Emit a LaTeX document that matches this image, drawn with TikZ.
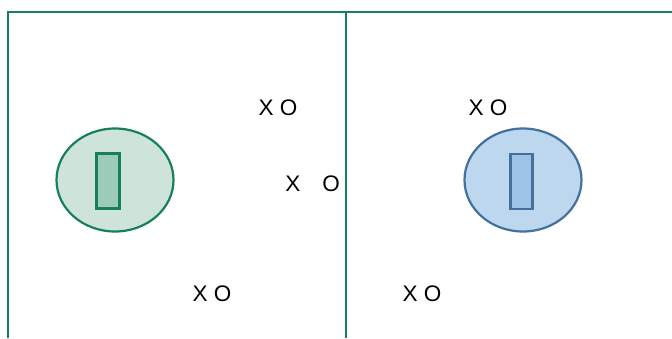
\documentclass[tikz,border=0pt]{standalone}
\usepackage{fontspec}
\setmainfont{Liberation Sans}
\usetikzlibrary{shapes.geometric}
\definecolor{gline}{RGB}{22,128,90}
\definecolor{gfill}{RGB}{206,228,219}
\definecolor{grect}{RGB}{157,203,186}
\definecolor{bline}{RGB}{65,113,156}
\definecolor{bfill}{RGB}{189,215,238}
\definecolor{brect}{RGB}{157,195,230}
\begin{document}
\begin{tikzpicture}[x=1pt,y=-1pt,
  frame/.style={draw=gline,line width=2.6pt},
  lbl/.style={font=\fontsize{22.5}{24}\selectfont,inner sep=0pt,anchor=center}]
\useasboundingbox (0,0) rectangle (672,338);
\coordinate (tl) at (8,12);
\coordinate (tr) at (672,12);
\coordinate (bl) at (8,338);
\coordinate (tm) at (346,12);
\coordinate (bm) at (346,338);
\draw[frame] (bl) -- (tl) -- (tr);
\draw[frame] (tm) -- (bm);
\node[ellipse,draw=gline,fill=gfill,line width=2.2pt,minimum width=117pt,minimum height=103pt,inner sep=0pt] (ge) at (115,180) {};
\node[draw=gline,fill=grect,line width=2.4pt,minimum width=23pt,minimum height=55pt,inner sep=0pt] (gr) at (108,181) {};
\node[ellipse,draw=bline,fill=bfill,line width=2.2pt,minimum width=117pt,minimum height=103pt,inner sep=0pt] (be) at (523,180) {};
\node[draw=bline,fill=brect,line width=2.4pt,minimum width=22pt,minimum height=55pt,inner sep=0pt] (br) at (521.5,181.5) {};
\node[lbl] (t1) at (278,108) {X O};
\node[lbl] (t2x) at (293,184) {X};
\node[lbl] (t2o) at (331,184) {O};
\node[lbl] (t3) at (212,294) {X O};
\node[lbl] (t4) at (488,108) {X O};
\node[lbl] (t5) at (422,294) {X O};
\end{tikzpicture}
\end{document}
